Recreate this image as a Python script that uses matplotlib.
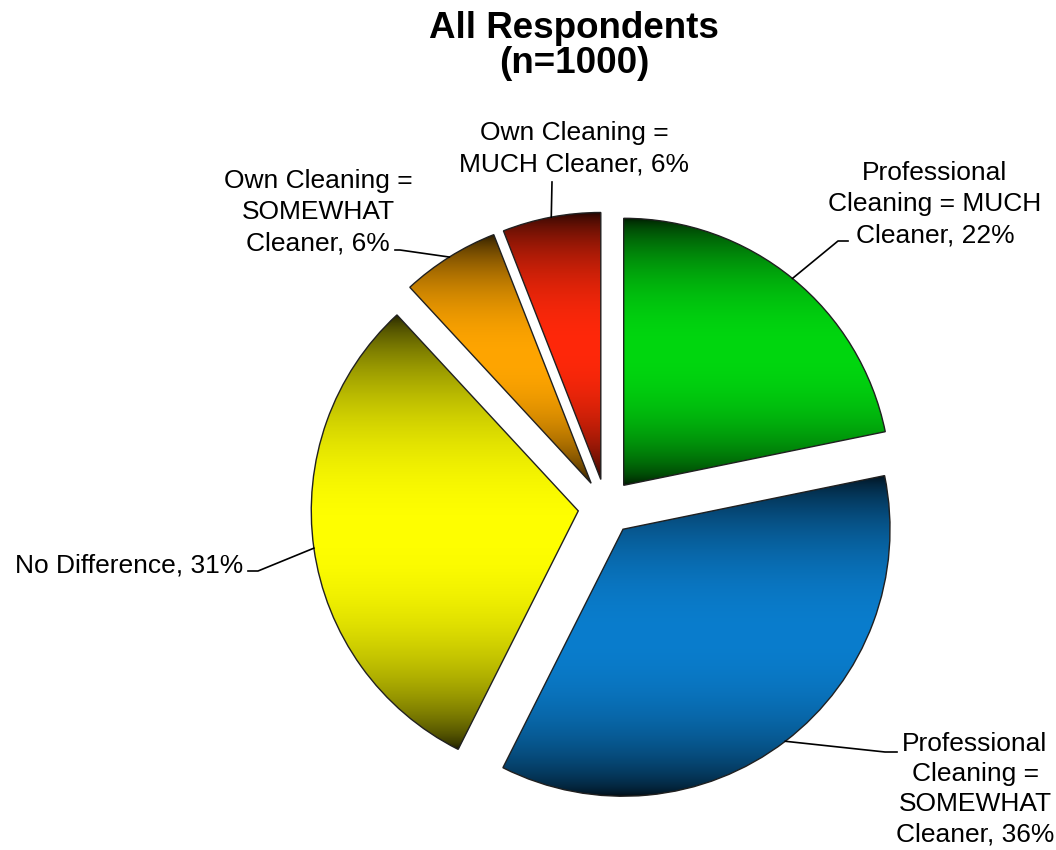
import numpy as np
import matplotlib
matplotlib.use("Agg")
import matplotlib.pyplot as plt
from matplotlib.colors import to_rgb

plt.rcParams['font.family'] = ['Liberation Sans', 'DejaVu Sans']

labels = ["Professional\nCleaning = MUCH\nCleaner, 22%",
          "Professional\nCleaning =\nSOMEWHAT\nCleaner, 36%",
          "No Difference, 31%",
          "Own Cleaning =\nSOMEWHAT\nCleaner, 6%",
          "Own Cleaning =\nMUCH Cleaner, 6%"]
values = [22, 36, 31, 6, 6]
colors = ['#00d70f', '#0a7dcd', '#ffff00', '#ffa500', '#ff280a']

W, H = 1056, 850
fig = plt.figure(figsize=(W / 100, H / 100), dpi=100)
ax = fig.add_axes([0, 0, 1, 1])

R = 267
wedges, _ = ax.pie(values, radius=R, center=(606, H - 507), startangle=90,
                   counterclock=False, explode=[28] * len(values),
                   wedgeprops=dict(linewidth=1.0, edgecolor='#202020'))

# vertical "glassy" gradient: dark at top and bottom, bright in middle
t = np.linspace(0, 1, 256)
shade = 0.1 + 0.9 * np.sin(np.pi * t) ** 0.6

for w, c in zip(wedges, colors):
    base = np.array(to_rgb(c))
    img = (shade[:, None] * base[None, :])[:, None, :]
    ext = w.get_path().get_extents()
    w.set_facecolor('none')
    w.set_zorder(3)
    im = ax.imshow(img, extent=[ext.x0, ext.x1, ext.y0, ext.y1], origin='lower',
                   aspect='auto', interpolation='bilinear', zorder=2)
    im.set_clip_path(w)

# leader lines from arc midpoints
elbows = [[(838, 241), (848, 241)],
          [(885, 752), (897, 752)],
          [(258, 571), (248, 571)],
          [(400, 250), (395, 250)],
          [(552, 182), (552, 182)]]
for w, pts in zip(wedges, elbows):
    mid = np.deg2rad((w.theta1 + w.theta2) / 2)
    cx, cy = w.center
    ax0 = cx + w.r * np.cos(mid)
    ay0 = cy + w.r * np.sin(mid)
    xs = [ax0] + [p[0] for p in pts]
    ys = [ay0] + [H - p[1] for p in pts]
    ax.plot(xs, ys, color='black', lw=1.2, zorder=4)

fs = 19
ls = 1.38
ax.text(935, H - 204, labels[0], ha='center', va='center', fontsize=fs, linespacing=ls)
ax.text(975, H - 789, labels[1], ha='center', va='center', fontsize=fs, linespacing=1.32)
ax.text(243, H - 565, labels[2], ha='right', va='center', fontsize=fs)
ax.text(318, H - 212, labels[3], ha='center', va='center', fontsize=fs, linespacing=ls)
ax.text(574, H - 149, labels[4], ha='center', va='center', fontsize=fs, linespacing=ls)

fig.text(574 / W, 1 - 46 / H, "All Respondents\n(n=1000)", ha='center', va='center',
         fontsize=26.5, fontweight='bold', linespacing=1.0)

ax.set_xlim(0, W)
ax.set_ylim(0, H)
ax.set_aspect('equal')
ax.axis('off')

fig.savefig('out.png', dpi=100)
